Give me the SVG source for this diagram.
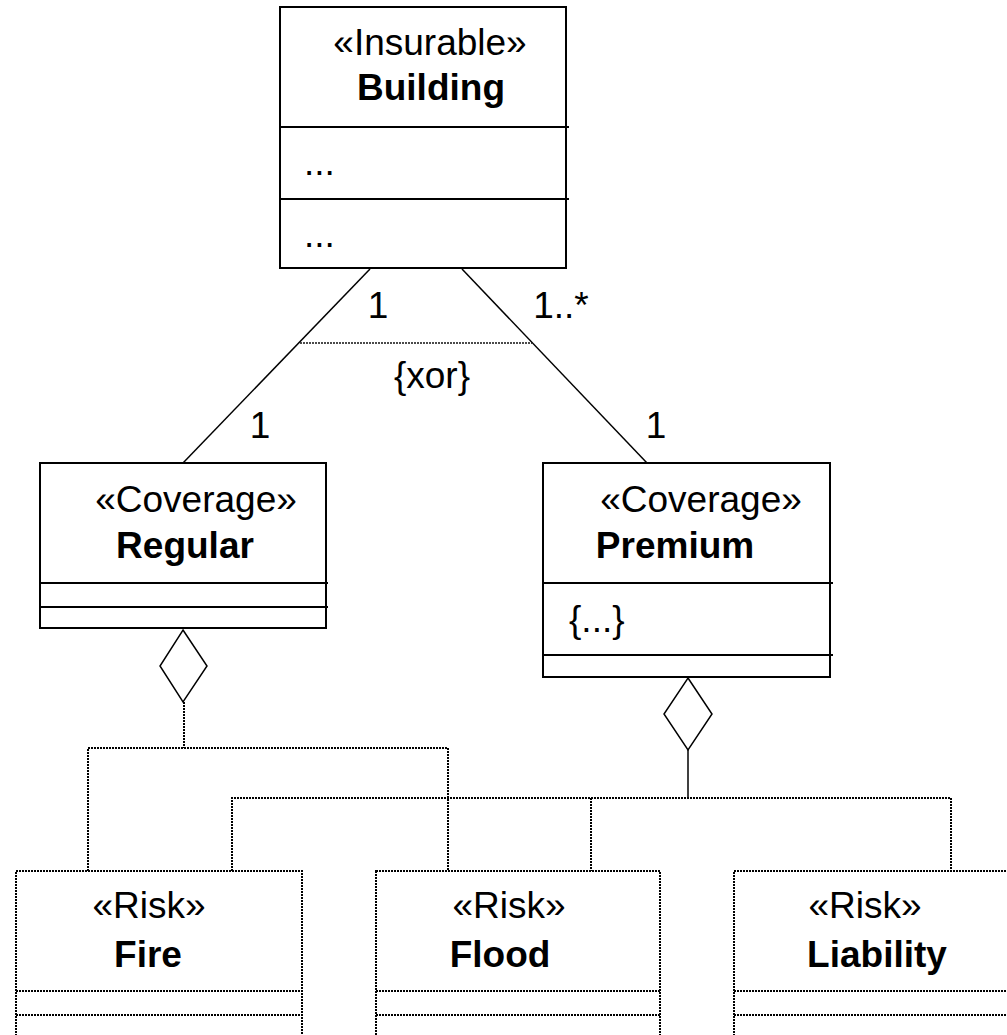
<svg xmlns="http://www.w3.org/2000/svg" width="1007" height="1035" viewBox="0 0 1007 1035">
  <style>
    text { font-family: "Liberation Sans", Arial, sans-serif; font-size: 37px; fill: #000; }
    .name { font-weight: bold; }
    .mid { text-anchor: middle; }
    .box { fill: #fff; stroke: #000; stroke-width: 2; }
    .sep { stroke: #000; stroke-width: 2; }
    .dbox { fill: #fff; stroke: #000; stroke-width: 2; stroke-dasharray: 2 1; }
    .dsep { stroke: #000; stroke-width: 2; stroke-dasharray: 2 1; }
    .assoc { fill: none; stroke: #000; stroke-width: 1.5; }
    .dotted { fill: none; stroke: #000; stroke-width: 2; stroke-dasharray: 2 1; }
    .xor { fill: none; stroke: #111; stroke-width: 1.5; stroke-dasharray: 2 1; }
    .diamond { fill: #fff; stroke: #000; stroke-width: 1.5; }
  </style>
  <rect width="1007" height="1035" fill="#fff"/>

  <!-- connectors -->
  <g id="connectors">
    <line class="assoc" x1="370" y1="269" x2="183" y2="463"/>
    <line class="assoc" x1="462" y1="269" x2="647" y2="463"/>
    <line class="xor" x1="300" y1="343" x2="532" y2="343"/>
    <!-- Regular aggregation -->
    <polygon class="diamond" points="183,630 207,666 183,702 160,666"/>
    <line class="dotted" x1="184" y1="702" x2="184" y2="748"/>
    <polyline class="dotted" points="88,871 88,748 448,748 448,871"/>
    <!-- Premium aggregation -->
    <polygon class="diamond" points="688,678 712,714 688,750 664,714"/>
    <line class="assoc" x1="688" y1="750" x2="688" y2="798"/>
    <polyline class="dotted" points="232,871 232,798 951,798 951,871"/>
    <line class="dotted" x1="591" y1="798" x2="591" y2="871"/>
    <text x="378" y="318" class="mid">1</text>
    <text x="561" y="318" class="mid">1..*</text>
    <text x="432" y="388" class="mid">{xor}</text>
    <text x="260" y="438" class="mid">1</text>
    <text x="656" y="438" class="mid">1</text>
  </g>

  <g id="building">
    <rect class="box" x="280" y="7" width="286" height="261"/>
    <line class="sep" x1="280" y1="127" x2="569" y2="127"/>
    <line class="sep" x1="280" y1="199" x2="569" y2="199"/>
    <text x="430" y="55" class="mid">«Insurable»</text>
    <text x="431" y="100" class="mid name">Building</text>
    <text x="304" y="175">...</text>
    <text x="304" y="247">...</text>
  </g>

  <g id="regular">
    <rect class="box" x="40" y="463" width="286" height="165"/>
    <line class="sep" x1="40" y1="583" x2="328" y2="583"/>
    <line class="sep" x1="40" y1="607" x2="328" y2="607"/>
    <text x="196" y="512" class="mid">«Coverage»</text>
    <text x="185" y="558" class="mid name">Regular</text>
  </g>

  <g id="premium">
    <rect class="box" x="543" y="463" width="287" height="214"/>
    <line class="sep" x1="543" y1="583" x2="833" y2="583"/>
    <line class="sep" x1="543" y1="655" x2="833" y2="655"/>
    <text x="701" y="512" class="mid">«Coverage»</text>
    <text x="675" y="558" class="mid name">Premium</text>
    <text x="569" y="632">{...}</text>
  </g>

  <g id="fire">
    <rect class="dbox" x="16" y="871" width="286" height="200"/>
    <line class="dsep" x1="16" y1="991" x2="302" y2="991"/>
    <line class="dsep" x1="16" y1="1015" x2="302" y2="1015"/>
    <text x="149" y="918" class="mid">«Risk»</text>
    <text x="148" y="967" class="mid name">Fire</text>
  </g>

  <g id="flood">
    <rect class="dbox" x="376" y="871" width="284" height="200"/>
    <line class="dsep" x1="376" y1="991" x2="660" y2="991"/>
    <line class="dsep" x1="376" y1="1015" x2="660" y2="1015"/>
    <text x="509" y="918" class="mid">«Risk»</text>
    <text x="500" y="967" class="mid name">Flood</text>
  </g>

  <g id="liability">
    <rect class="dbox" x="734" y="871" width="286" height="200"/>
    <line class="dsep" x1="734" y1="991" x2="1020" y2="991"/>
    <line class="dsep" x1="734" y1="1015" x2="1020" y2="1015"/>
    <text x="865" y="918" class="mid">«Risk»</text>
    <text x="877" y="967" class="mid name">Liability</text>
  </g>
</svg>
